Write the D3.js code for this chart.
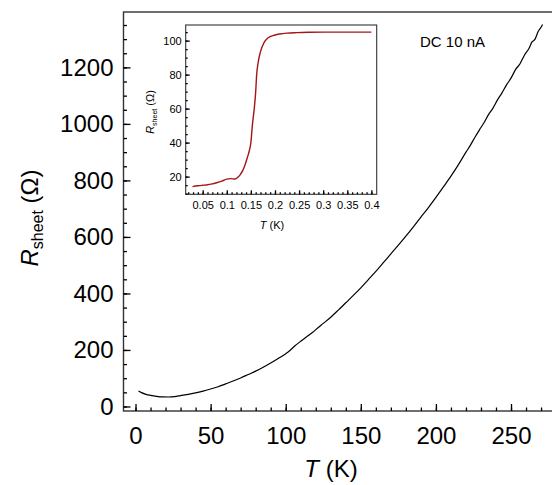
<!DOCTYPE html>
<meta charset="utf-8">
<style>
body { margin: 0; background: #fff; }
svg text { font-family: "Liberation Sans", Arial, Helvetica, sans-serif; fill: #000; }
.frame { fill: none; stroke: #333; stroke-width: 1.4; }
.axis path { stroke: none; }
.axis line { stroke: #000; stroke-width: 1.3; }
.line { fill: none; }
</style>
<body>
<script src="https://cdn.jsdelivr.net/npm/d3@7"></script>
<script>
// main curve: T (K) vs R_sheet (Ohm)
var mainT = [2, 4, 7, 10, 14, 18, 22, 26, 30, 35, 40, 45, 50, 55, 60, 65, 70, 75, 80, 85, 90, 95, 100, 103, 106,
             110, 114, 118, 120, 125, 130, 135, 140, 145, 150, 155, 160, 165, 170, 175, 180, 185, 190, 195, 200,
             205, 210, 215, 220, 223, 226, 229, 232, 235, 238, 241, 244, 247, 250, 253, 256, 259, 262, 264, 266, 268, 270, 271];
var mainR = [55, 49, 43, 39.5, 36, 34, 33.6, 35, 38.5, 43, 48, 54.5, 62, 70, 80, 90, 101, 113, 125, 139, 154, 170, 187, 199, 214,
             231, 247, 263, 272, 294, 316, 341, 367, 393, 420, 449, 478, 509, 540, 571, 603, 636, 670, 704, 740,
             777, 815, 856, 900, 925, 953, 979, 1004, 1033, 1056, 1085, 1110, 1138, 1162, 1192, 1213, 1244, 1268, 1290, 1300, 1326, 1342, 1352];

// inset: low temperature transition
var insetT = [0.029, 0.04, 0.05, 0.058, 0.07, 0.079, 0.09, 0.1, 0.108, 0.117, 0.123, 0.128, 0.133, 0.138, 0.143, 0.147,
              0.15, 0.153, 0.157, 0.16, 0.162, 0.165, 0.17, 0.1775, 0.185, 0.2, 0.21, 0.225, 0.245, 0.27, 0.3, 0.35, 0.4];
var insetR = [14.1, 14.6, 14.9, 15.1, 15.7, 16.4, 17.4, 18.5, 18.8, 18.6, 19.6, 21.2, 23.5, 27, 31.5, 35.5,
              40, 50, 60, 70, 80, 87, 93.5, 99, 101.5, 103.3, 103.9, 104.4, 104.7, 104.9, 105, 105, 105];

var mainXTicks = [0, 50, 100, 150, 200, 250];
var mainYTicks = [0, 200, 400, 600, 800, 1000, 1200];
var insetXTicks = [0.05, 0.1, 0.15, 0.2, 0.25, 0.3, 0.35, 0.4];
var insetYTicks = [20, 40, 60, 80, 100];

var width = 552, height = 485;

var svg = d3.select("body").append("svg")
    .attr("width", width)
    .attr("height", height);

// main scales
var x = d3.scaleLinear().domain([-8, 290]).range([123.5, 123.5 + 298 * 1.502]);
var y = d3.scaleLinear().domain([-16, 1396]).range([411, 12]);

// frame
svg.append("rect")
    .attr("class", "frame")
    .attr("x", x.range()[0]).attr("y", y.range()[1])
    .attr("width", x.range()[1] - x.range()[0])
    .attr("height", y.range()[0] - y.range()[1]);

// minor ticks
svg.append("g").attr("class", "axis")
    .attr("transform", "translate(0," + y.range()[0] + ")")
    .call(d3.axisBottom(x).tickValues(d3.range(0, 290, 10)).tickSize(-3.5).tickFormat(""));
svg.append("g").attr("class", "axis")
    .attr("transform", "translate(" + x.range()[0] + ",0)")
    .call(d3.axisLeft(y).tickValues(d3.range(0, 1400, 50)).tickSize(-3.5).tickFormat(""));

// major ticks + labels
var gx = svg.append("g").attr("class", "axis")
    .attr("transform", "translate(0," + y.range()[0] + ")")
    .call(d3.axisBottom(x).tickValues(mainXTicks).tickSize(-7).tickPadding(16).tickFormat(d3.format("d")));
var gy = svg.append("g").attr("class", "axis")
    .attr("transform", "translate(" + x.range()[0] + ",0)")
    .call(d3.axisLeft(y).tickValues(mainYTicks).tickSize(-7).tickPadding(10).tickFormat(d3.format("d")));
[gx, gy].forEach(function(g) {
  g.attr("font-size", 24).attr("font-family", null);
});

// main curve
var line = d3.line()
    .x(function(d, i) { return x(mainT[i]); })
    .y(function(d, i) { return y(mainR[i]); })
    .curve(d3.curveMonotoneX);
svg.append("path")
    .attr("class", "line")
    .attr("stroke", "#000")
    .attr("stroke-width", 1.2)
    .attr("d", line(mainT));

// axis titles
var xt = svg.append("text")
    .attr("x", 331).attr("y", 477)
    .attr("text-anchor", "middle")
    .attr("font-size", 24);
xt.append("tspan").attr("font-style", "italic").text("T");
xt.append("tspan").text(" (K)");

var yt = svg.append("text")
    .attr("transform", "translate(38,218) rotate(-90)")
    .attr("text-anchor", "middle")
    .attr("font-size", 24);
yt.append("tspan").attr("font-style", "italic").text("R");
yt.append("tspan").attr("font-size", 16).attr("dy", 5).text("sheet");
yt.append("tspan").attr("dy", -5).text(" (\u03A9)");

svg.append("text")
    .attr("x", 420).attr("y", 47)
    .attr("font-size", 15)
    .text("DC 10 nA");

// ---- inset ----
var xi = d3.scaleLinear().domain([0.0148, 0.411]).range([185.7, 376.7]);
var yi = d3.scaleLinear().domain([9.6, 109.2]).range([194.3, 25]);

svg.append("rect")
    .attr("x", xi.range()[0]).attr("y", yi.range()[1])
    .attr("width", xi.range()[1] - xi.range()[0])
    .attr("height", yi.range()[0] - yi.range()[1])
    .attr("fill", "#fff")
    .attr("stroke", "#333").attr("stroke-width", 1.1);

svg.append("g").attr("class", "axis")
    .attr("transform", "translate(0," + yi.range()[0] + ")")
    .call(d3.axisBottom(xi).tickValues(d3.range(0.02, 0.405, 0.01)).tickSize(-2).tickFormat(""));
svg.append("g").attr("class", "axis")
    .attr("transform", "translate(" + xi.range()[0] + ",0)")
    .call(d3.axisLeft(yi).tickValues(d3.range(10, 109, 5)).tickSize(-2).tickFormat(""));

var gxi = svg.append("g").attr("class", "axis")
    .attr("transform", "translate(0," + yi.range()[0] + ")")
    .call(d3.axisBottom(xi).tickValues(insetXTicks).tickSize(-4).tickPadding(7)
          .tickFormat(function(d) { return d; }));
var gyi = svg.append("g").attr("class", "axis")
    .attr("transform", "translate(" + xi.range()[0] + ",0)")
    .call(d3.axisLeft(yi).tickValues(insetYTicks).tickSize(-4).tickPadding(4));
[gxi, gyi].forEach(function(g) {
  g.attr("font-size", 11).attr("font-family", null);
});

var lineI = d3.line()
    .x(function(d, i) { return xi(insetT[i]); })
    .y(function(d, i) { return yi(insetR[i]); })
    .curve(d3.curveMonotoneX);
svg.append("path")
    .attr("class", "line")
    .attr("stroke", "#a51515")
    .attr("stroke-width", 1.4)
    .attr("d", lineI(insetT));

var xti = svg.append("text")
    .attr("x", 272).attr("y", 229)
    .attr("text-anchor", "middle")
    .attr("font-size", 11);
xti.append("tspan").attr("font-style", "italic").text("T");
xti.append("tspan").text(" (K)");

var yti = svg.append("text")
    .attr("transform", "translate(154,112) rotate(-90)")
    .attr("text-anchor", "middle")
    .attr("font-size", 11);
yti.append("tspan").attr("font-style", "italic").text("R");
yti.append("tspan").attr("font-size", 7).attr("dy", 2.5).text("sheet");
yti.append("tspan").attr("dy", -2.5).text(" (\u03A9)");
</script>
</body>
